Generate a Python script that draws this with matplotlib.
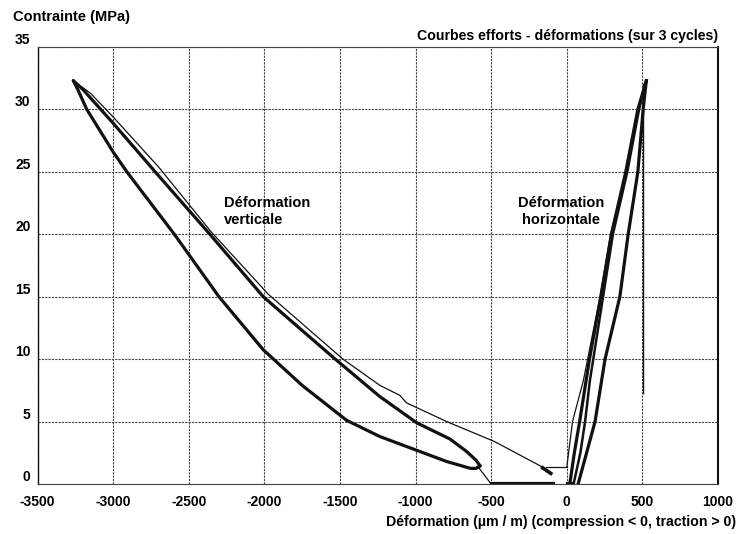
import matplotlib
matplotlib.use("Agg")
import matplotlib.pyplot as plt

plt.rcParams['font.family'] = ['Liberation Sans', 'DejaVu Sans']
plt.rcParams['font.weight'] = 'bold'
plt.rcParams['axes.unicode_minus'] = False

# Axis ticks
x_ticks = [-3500, -3000, -2500, -2000, -1500, -1000, -500, 0, 500, 1000]
y_ticks = [0, 5, 10, 15, 20, 25, 30, 35]

# Vertical strain loop (compression) - thick branches
vert_up_x = [-3263, -3200, -3000, -2700, -2360, -2007, -1760, -1531, -1236, -992, -772, -662, -600, -573]
vert_up_y = [32.3, 31.6, 28.9, 24.7, 20.0, 15.0, 12.4, 10.0, 7.0, 4.9, 3.6, 2.6, 1.9, 1.45]
vert_low_x = [-573, -600, -636, -794, -1015, -1236, -1456, -1750, -2007, -2300, -2595, -2909, -3000,
              -3174, -3230, -3263]
vert_low_y = [1.45, 1.25, 1.25, 1.8, 2.8, 3.8, 5.1, 7.9, 10.75, 15.0, 20.0, 25.0, 26.6,
              30.0, 31.5, 32.3]

# Vertical strain - thin line (first loading)
vert_thin_x = [-3263, -3150, -3000, -2700, -2352, -1974, -1480, -1236, -1104, -1060, -794, -478, -152]
vert_thin_y = [32.3, 31.3, 29.4, 25.4, 20.2, 15.2, 10.0, 7.9, 7.1, 6.5, 5.0, 3.4, 1.3]
arrow_x = [-160, -106]
arrow_y = [1.3, 0.85]
step_x = [-140, 0]
step_y = [1.35, 1.35]
start_x = [-500, -588]
start_y = [0.0, 1.4]
base_x = [-500, -92]
base_y = [0.12, 0.12]

# Horizontal strain loop (traction)
hor_load_x = [20, 50, 85, 150, 225, 295, 390, 470, 526]
hor_load_y = [0.0, 2.5, 5.0, 10.0, 15.0, 20.0, 25.0, 30.0, 32.3]
hor_unload_x = [526, 505, 470, 406, 351, 253, 187, 120, 75]
hor_unload_y = [32.3, 30.0, 25.0, 20.0, 15.0, 10.0, 5.0, 2.0, 0.0]
hor_load2_x = [45, 90, 121, 153, 240, 305, 400, 478, 526]
hor_load2_y = [0.0, 2.5, 5.0, 8.3, 15.0, 20.0, 25.0, 30.0, 32.3]
hor_thin_x = [0, 38, 110, 220, 290, 390, 470, 526]
hor_thin_y = [1.35, 5.0, 8.3, 15.0, 20.0, 25.0, 30.0, 32.3]
hor_base_x = [0, 30]
hor_base_y = [0.05, 0.05]
mark_x = [505, 505]
mark_y = [7.3, 32.0]

fig = plt.figure(figsize=(7.52, 5.34), dpi=100)
ax = fig.add_axes([37.5 / 752, 1 - 484 / 534, (718 - 37.5) / 752, (484 - 47) / 534])

ink = '#111111'
thick = 2.3
thin = 0.9

ax.plot(vert_up_x, vert_up_y, color=ink, lw=thick, solid_capstyle='round', solid_joinstyle='round')
ax.plot(vert_low_x, vert_low_y, color=ink, lw=thick, solid_capstyle='round', solid_joinstyle='round')
ax.plot(vert_thin_x, vert_thin_y, color=ink, lw=thin)
ax.plot(arrow_x, arrow_y, color=ink, lw=2.6)
ax.plot(step_x, step_y, color=ink, lw=thin)
ax.plot(start_x, start_y, color=ink, lw=thin)
ax.plot(base_x, base_y, color=ink, lw=thick)

ax.plot(hor_load_x, hor_load_y, color=ink, lw=thick, solid_joinstyle='round')
ax.plot(hor_load2_x, hor_load2_y, color=ink, lw=1.8, solid_joinstyle='round')
ax.plot(hor_unload_x, hor_unload_y, color=ink, lw=thick, solid_joinstyle='round')
ax.plot(hor_thin_x, hor_thin_y, color=ink, lw=thin)
ax.plot(hor_base_x, hor_base_y, color=ink, lw=thick)
ax.plot(mark_x, mark_y, color=ink, lw=1.0)

ax.set_xlim(-3500, 1000)
ax.set_ylim(0, 35)
ax.set_xticks(x_ticks)
ax.set_yticks(y_ticks)
ax.set_xticklabels([str(t) for t in x_ticks])
ax.set_yticklabels([str(t) for t in y_ticks])
ax.tick_params(length=0, labelsize=10)
ax.tick_params(axis='x', pad=8)
ax.tick_params(axis='y', pad=5)
for lab in ax.get_yticklabels():
    lab.set_va('bottom')
ax.grid(True, color='#444444', lw=0.8, linestyle=(0, (2, 1)))

for side in ['top', 'bottom']:
    ax.spines[side].set_linestyle((0, (2, 1)))
    ax.spines[side].set_color('#444444')
    ax.spines[side].set_linewidth(0.8)
ax.spines['left'].set_color(ink)
ax.spines['left'].set_linewidth(1.0)
ax.spines['right'].set_color(ink)
ax.spines['right'].set_linewidth(1.5)

ax.text(-2265, 21.8, 'Déformation\nverticale', fontsize=10.5, ha='left', va='center', linespacing=1.3)
ax.text(-37, 21.8, 'Déformation\nhorizontale', fontsize=10.5, ha='center', va='center', linespacing=1.3)

fig.text(13 / 752, 1 - 17.5 / 534, 'Contrainte (MPa)', fontsize=10.5, ha='left', va='center')
fig.text(718 / 752, 1 - 36 / 534, 'Courbes efforts - déformations (sur 3 cycles)', fontsize=10.2, ha='right', va='center')
fig.text(736 / 752, 1 - 522 / 534, 'Déformation (µm / m) (compression < 0, traction > 0)', fontsize=10.2, ha='right', va='center')

fig.savefig('out.png', dpi=100)
